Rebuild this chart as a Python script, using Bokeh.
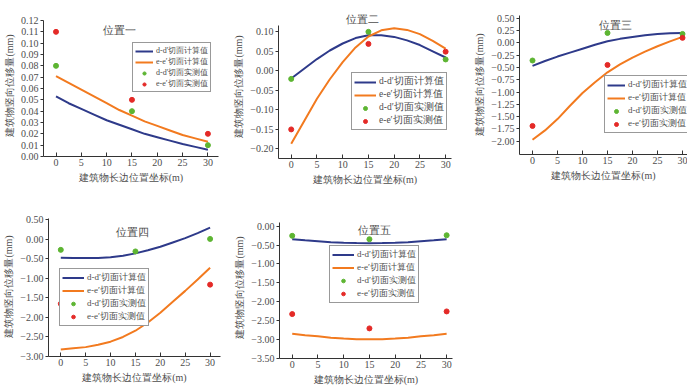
from bokeh.plotting import figure
from bokeh.layouts import column, row
from bokeh.models import (Legend, LegendItem, Label, FixedTicker,
                          CustomJSTickFormatter, Range1d)
from bokeh.embed import file_html
from bokeh.resources import INLINE

# ---------------- data ----------------
X_CURVE = [0, 2.5, 5, 7.5, 10, 12.5, 15, 17.5, 20, 22.5, 25, 27.5, 30]
X_MEAS = [0, 15, 30]
X_TICKS = [0, 5, 10, 15, 20, 25, 30]

TITLES = ["位置一", "位置二", "位置三", "位置四", "位置五"]
LEGEND_LABELS = ["d-d′切面计算值", "e-e′切面计算值", "d-d′切面实测值", "e-e′切面实测值"]
X_LABEL = "建筑物长边位置坐标(m)"
Y_LABEL = "建筑物竖向位移量(mm)"

p1_dd_calc = [0.053, 0.047, 0.042, 0.037, 0.032, 0.028, 0.024, 0.020, 0.017, 0.014, 0.011, 0.0085, 0.006]
p1_ee_calc = [0.071, 0.065, 0.059, 0.053, 0.047, 0.041, 0.036, 0.031, 0.027, 0.023, 0.019, 0.016, 0.013]
p1_dd_meas = [0.08, 0.04, 0.01]
p1_ee_meas = [0.11, 0.05, 0.02]
p1_yticks = [0.00, 0.01, 0.02, 0.03, 0.04, 0.05, 0.06, 0.07, 0.08, 0.09, 0.10, 0.11, 0.12]

p2_dd_calc = [-0.020, 0.005, 0.030, 0.052, 0.070, 0.084, 0.091, 0.091, 0.087, 0.078, 0.066, 0.050, 0.034]
p2_ee_calc = [-0.188, -0.130, -0.072, -0.022, 0.022, 0.060, 0.088, 0.104, 0.109, 0.105, 0.094, 0.077, 0.057]
p2_dd_meas = [-0.021, 0.100, 0.029]
p2_ee_meas = [-0.151, 0.069, 0.049]
p2_yticks = [-0.20, -0.15, -0.10, -0.05, 0.00, 0.05, 0.10]

p3_dd_calc = [-0.47, -0.37, -0.28, -0.20, -0.12, -0.04, 0.03, 0.08, 0.12, 0.155, 0.18, 0.195, 0.20]
p3_ee_calc = [-1.97, -1.78, -1.55, -1.28, -1.02, -0.80, -0.60, -0.44, -0.30, -0.18, -0.07, 0.03, 0.12]
p3_dd_meas = [-0.36, 0.20, 0.18]
p3_ee_meas = [-1.69, -0.45, 0.10]
p3_yticks = [-2.00, -1.75, -1.50, -1.25, -1.00, -0.75, -0.50, -0.25, 0.00, 0.25, 0.50]

p4_dd_calc = [-0.47, -0.48, -0.48, -0.48, -0.46, -0.42, -0.36, -0.28, -0.19, -0.08, 0.03, 0.16, 0.30]
p4_ee_calc = [-2.82, -2.79, -2.76, -2.70, -2.62, -2.50, -2.34, -2.13, -1.88, -1.60, -1.32, -1.03, -0.73]
p4_dd_meas = [-0.27, -0.31, 0.01]
p4_ee_meas = [-1.65, -1.64, -1.16]
p4_yticks = [-3.00, -2.50, -2.00, -1.50, -1.00, -0.50, 0.00, 0.50]

p5_dd_calc = [-0.345, -0.375, -0.40, -0.425, -0.44, -0.448, -0.45, -0.448, -0.44, -0.425, -0.40, -0.375, -0.345]
p5_ee_calc = [-2.85, -2.89, -2.92, -2.955, -2.98, -2.995, -3.00, -2.995, -2.98, -2.955, -2.92, -2.89, -2.85]
p5_dd_meas = [-0.255, -0.345, -0.24]
p5_ee_meas = [-2.33, -2.71, -2.26]
p5_yticks = [-3.50, -3.00, -2.50, -2.00, -1.50, -1.00, -0.50, 0.00]

# ---------------- style ----------------
SERIF = "'Liberation Serif'"
BLUE = "#2e3a8a"
ORANGE = "#f27a1f"
GREEN = "#5db532"
RED = "#e42a27"
TEXT = "#4d4d4d"
AXIS = "#333333"

FMT = CustomJSTickFormatter(code="""
const s = Math.abs(tick).toFixed(2);
return (tick < -1e-9 ? '\u2212' : '') + s;
""")


def make_panel(title, title_xy, dd_calc, ee_calc, dd_meas, ee_meas, yticks,
               xr, yr, ybounds, frame, borders, legend_loc, legend_font,
               legend_row, glyph_w):
    bl, br, bt, bb = borders
    fw, fh = frame
    p = figure(frame_width=fw, frame_height=fh,
               x_range=Range1d(*xr), y_range=Range1d(*yr),
               output_backend="svg", toolbar_location=None, title_location=None,
               min_border_left=bl, min_border_right=br,
               min_border_top=bt, min_border_bottom=bb)
    p.outline_line_color = None
    p.grid.visible = False
    p.background_fill_color = "white"
    p.border_fill_color = "white"

    r1 = p.line(X_CURVE, dd_calc, line_color=BLUE, line_width=2)
    r2 = p.line(X_CURVE, ee_calc, line_color=ORANGE, line_width=2)
    r3 = p.scatter(X_MEAS, dd_meas, size=5, fill_color=GREEN, line_color=GREEN)
    r4 = p.scatter(X_MEAS, ee_meas, size=5, fill_color=RED, line_color=RED)

    xa = p.xaxis[0]
    xa.ticker = FixedTicker(ticks=X_TICKS)
    xa.minor_tick_line_color = None
    xa.major_tick_in = 4
    xa.major_tick_out = 0
    xa.axis_line_color = AXIS
    xa.major_tick_line_color = AXIS
    xa.major_label_text_font = SERIF
    xa.major_label_text_font_size = "10px"
    xa.major_label_text_color = TEXT
    xa.major_label_standoff = 2
    xa.axis_label = X_LABEL
    xa.axis_label_text_font = SERIF
    xa.axis_label_text_font_size = "10px"
    xa.axis_label_text_font_style = "normal"
    xa.axis_label_text_color = TEXT
    xa.axis_label_standoff = 3

    ya = p.yaxis[0]
    ya.ticker = FixedTicker(ticks=yticks)
    ya.formatter = FMT
    ya.bounds = ybounds
    ya.minor_tick_line_color = None
    ya.major_tick_in = 0
    ya.major_tick_out = 3
    ya.axis_line_color = AXIS
    ya.major_tick_line_color = AXIS
    ya.major_label_text_font = SERIF
    ya.major_label_text_font_size = "10px"
    ya.major_label_text_color = TEXT
    ya.major_label_standoff = 2
    ya.axis_label = Y_LABEL
    ya.axis_label_text_font = SERIF
    ya.axis_label_text_font_size = "10px"
    ya.axis_label_text_font_style = "normal"
    ya.axis_label_text_color = TEXT
    ya.axis_label_standoff = 3

    items = [LegendItem(label=LEGEND_LABELS[i], renderers=[r])
             for i, r in enumerate([r1, r2, r3, r4])]
    leg = Legend(items=items, location=legend_loc,
                 label_text_font=SERIF, label_text_font_size=legend_font,
                 label_text_color=TEXT, label_text_line_height=0.8,
                 label_height=legend_row, glyph_height=legend_row,
                 glyph_width=glyph_w, label_standoff=3,
                 spacing=0, padding=2, margin=0,
                 border_line_color=AXIS, border_line_width=1,
                 background_fill_color="white", background_fill_alpha=1)
    p.add_layout(leg)

    p.add_layout(Label(x=title_xy[0], y=title_xy[1], text=title,
                       text_align="center", text_baseline="middle",
                       text_font=SERIF, text_font_size="11px", text_color=TEXT))
    return p


f1 = make_panel(TITLES[0], (12.5, 0.112), p1_dd_calc, p1_ee_calc, p1_dd_meas, p1_ee_meas,
                p1_yticks, (-2.47, 32.09), (0, 0.1253), (0, 0.12),
                (175, 142), (38, 12, 13, 35), (89, 64), "8px", 8, 18)
f2 = make_panel(TITLES[1], (13.9, 0.132), p2_dd_calc, p2_ee_calc, p2_dd_meas, p2_ee_meas,
                p2_yticks, (-2.47, 31.14), (-0.2258, 0.1446), (-0.2258, 0.116),
                (173, 144), (45, 8, 12, 34), (73, 28), "9.5px", 10, 22)
f3 = make_panel(TITLES[2], (16.5, 0.37), p3_dd_calc, p3_ee_calc, p3_dd_meas, p3_ee_meas,
                p3_yticks, (-2.6, 31.0), (-2.27, 0.575), (-2.27, 0.555),
                (168, 140), (60, 0, 14, 36), (85, 21), "9px", 10, 18)
f4 = make_panel(TITLES[3], (14.5, 0.18), p4_dd_calc, p4_ee_calc, p4_dd_meas, p4_ee_meas,
                p4_yticks, (-2.47, 32.09), (-3.0, 0.584), (-3.0, 0.53),
                (172, 140), (42, 11, 26, 30), (11, 30), "9px", 9, 22)
f5 = make_panel(TITLES[4], (15.9, -0.09), p5_dd_calc, p5_ee_calc, p5_dd_meas, p5_ee_meas,
                p5_yticks, (-2.47, 31.14), (-3.508, 0.257), (-3.508, 0.1),
                (173, 142), (45, 8, 24, 30), (50, 55), "9px", 9, 22)

layout = column(row(f1, f2, f3), row(f4, f5))

with open("out.html", "w") as fh:
    fh.write(file_html(layout, INLINE))
